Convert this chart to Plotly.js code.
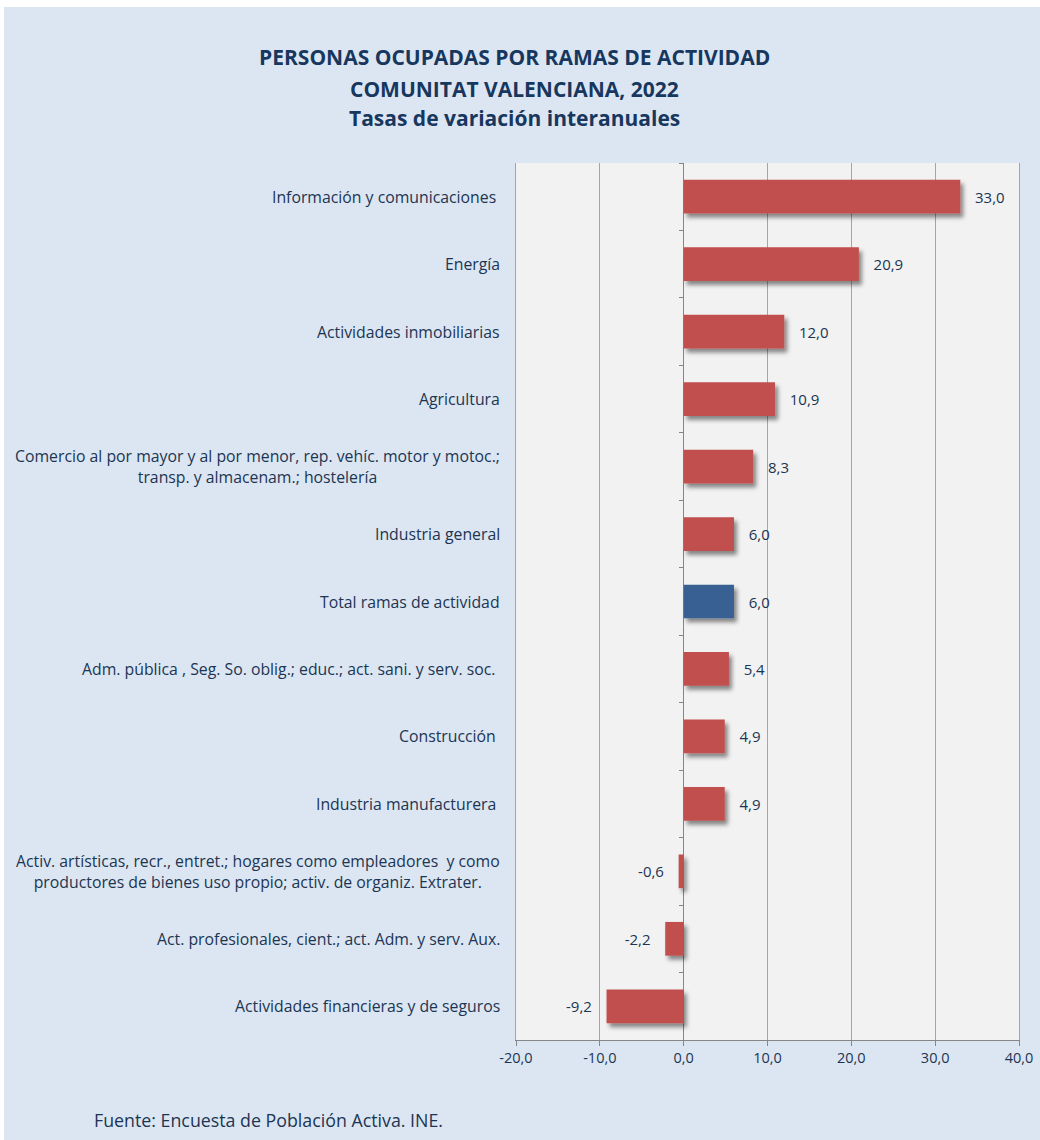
<!DOCTYPE html>
<html>
<head>
<meta charset="utf-8">
<script src="https://cdn.plot.ly/plotly-3.0.1.min.js"></script>
<style>
  html, body { margin: 0; padding: 0; background: #ffffff; }
  #chart { position: absolute; left: 4px; top: 7px; width: 1036px; height: 1133px; }
</style>
</head>
<body>
<div id="chart"></div>
<script>
// ---- data (top to bottom as drawn) ----
const categories = [
  "Información y comunicaciones ",
  "Energía",
  "Actividades inmobiliarias",
  "Agricultura",
  "Comercio al por mayor y al por menor, rep. vehíc. motor y motoc.;<br>transp. y almacenam.; hostelería",
  "Industria general",
  "Total ramas de actividad",
  "Adm. pública , Seg. So. oblig.; educ.; act. sani. y serv. soc. ",
  "Construcción ",
  "Industria manufacturera ",
  "Activ. artísticas, recr., entret.; hogares como empleadores  y como<br>productores de bienes uso propio; activ. de organiz. Extrater.",
  "Act. profesionales, cient.; act. Adm. y serv. Aux.",
  "Actividades financieras y de seguros"
];
const values = [33.0, 20.9, 12.0, 10.9, 8.3, 6.0, 6.0, 5.4, 4.9, 4.9, -0.6, -2.2, -9.2];
const totalLabel = "Total ramas de actividad";
const xTickValues = [-20, -10, 0, 10, 20, 30, 40];
const xTickText = ["-20,0", "-10,0", "0,0", "10,0", "20,0", "30,0", "40,0"];

const titleLines = [
  "PERSONAS OCUPADAS POR RAMAS DE ACTIVIDAD",
  "COMUNITAT VALENCIANA, 2022",
  "Tasas de variación interanuales"
];
const sourceText = "Fuente: Encuesta de Población Activa. INE.";

// ---- styling ----
const RED = "#c0504d";
const BLUE = "#376092";
const TXT = "#1b3553";
const GRID = "#88aad8";
const FONT = "Open Sans, Noto Sans, sans-serif";
const NB = "\u00a0\u00a0\u00a0";

const barColors = categories.map(c => c === totalLabel ? BLUE : RED);
const textTemplates = values.map(v => v >= 0 ? NB + "%{x:.1f}" : "%{x:.1f}" + NB);

const xMin = -20, xMax = 40;
const zeroFrac = (0 - xMin) / (xMax - xMin);
const yRange = [categories.length - 0.5, -0.5];

const traces = [
  {
    type: "bar",
    orientation: "h",
    x: values,
    y: categories,
    width: 0.5,
    marker: { color: barColors, line: { width: 0 } },
    texttemplate: textTemplates,
    textposition: "outside",
    textfont: { family: FONT, size: 15, color: TXT },
    cliponaxis: false,
    hoverinfo: "skip"
  },
  {
    type: "scatter",
    mode: "none",
    x: values.map(() => 0),
    y: categories,
    yaxis: "y2",
    hoverinfo: "skip",
    showlegend: false
  }
];

const annotations = [];
categories.forEach(c => {
  annotations.push({
    xref: "paper", yref: "y", x: 0, y: c,
    xanchor: "right", yanchor: "middle", align: "center",
    xshift: -14,
    text: c, showarrow: false,
    font: { family: FONT, size: 15.8, color: TXT }
  });
});
const titleShifts = [106, 74, 45];
titleLines.forEach((t, i) => {
  annotations.push({
    xref: "paper", yref: "paper", x: 0.5, y: 1,
    xanchor: "center", yanchor: "middle",
    xshift: -253, yshift: titleShifts[i],
    text: "<b>" + t + "</b>", showarrow: false,
    font: { family: FONT, size: 21, color: "#17375e" }
  });
});
annotations.push({
  xref: "paper", yref: "paper", x: 0, y: 0,
  xanchor: "left", yanchor: "middle",
  xshift: -424, yshift: -80,
  text: sourceText, showarrow: false,
  font: { family: FONT, size: 17.8, color: TXT }
});

const layout = {
  width: 1036,
  height: 1133,
  margin: { l: 512, r: 21, t: 156, b: 100 },
  paper_bgcolor: "#dce6f2",
  plot_bgcolor: "#f2f2f2",
  separators: ",.",
  showlegend: false,
  font: { family: FONT, color: TXT },
  xaxis: {
    range: [xMin, xMax],
    tickvals: xTickValues,
    ticktext: xTickText,
    showgrid: true,
    gridcolor: GRID,
    gridwidth: 1,
    zeroline: true,
    zerolinecolor: "#868686",
    zerolinewidth: 1,
    showline: true,
    linecolor: "#868686",
    linewidth: 1,
    ticks: "outside",
    ticklen: 5,
    tickcolor: "#868686",
    tickfont: { family: FONT, size: 14.5, color: TXT },
    fixedrange: true
  },
  yaxis: {
    type: "category",
    categoryorder: "array",
    categoryarray: categories,
    range: yRange,
    showticklabels: false,
    showgrid: false,
    zeroline: false,
    showline: true,
    mirror: true,
    linecolor: GRID,
    linewidth: 1,
    ticks: "",
    fixedrange: true
  },
  yaxis2: {
    type: "category",
    categoryorder: "array",
    categoryarray: categories,
    range: yRange,
    overlaying: "y",
    anchor: "free",
    position: zeroFrac,
    side: "left",
    showticklabels: false,
    showgrid: false,
    zeroline: false,
    showline: false,
    ticks: "outside",
    tickson: "boundaries",
    ticklen: 5,
    tickcolor: "#868686",
    fixedrange: true
  },
  annotations: annotations
};

Plotly.newPlot("chart", traces, layout, { displayModeBar: false, staticPlot: true }).then(gd => {
  const NS = "http://www.w3.org/2000/svg";
  const svg = gd.querySelector("svg.main-svg");
  let defs = svg.querySelector("defs");
  if (!defs) { defs = document.createElementNS(NS, "defs"); svg.insertBefore(defs, svg.firstChild); }
  const f = document.createElementNS(NS, "filter");
  f.setAttribute("id", "barshadow");
  f.setAttribute("filterUnits", "userSpaceOnUse");
  f.setAttribute("x", "-300"); f.setAttribute("y", "-300");
  f.setAttribute("width", "2500"); f.setAttribute("height", "2500");
  const ds = document.createElementNS(NS, "feDropShadow");
  ds.setAttribute("dx", "3"); ds.setAttribute("dy", "4");
  ds.setAttribute("stdDeviation", "2");
  ds.setAttribute("flood-color", "#000000");
  ds.setAttribute("flood-opacity", "0.45");
  f.appendChild(ds);
  defs.appendChild(f);
  gd.querySelectorAll(".barlayer .point path").forEach(p => p.setAttribute("filter", "url(#barshadow)"));
});
</script>
</body>
</html>
